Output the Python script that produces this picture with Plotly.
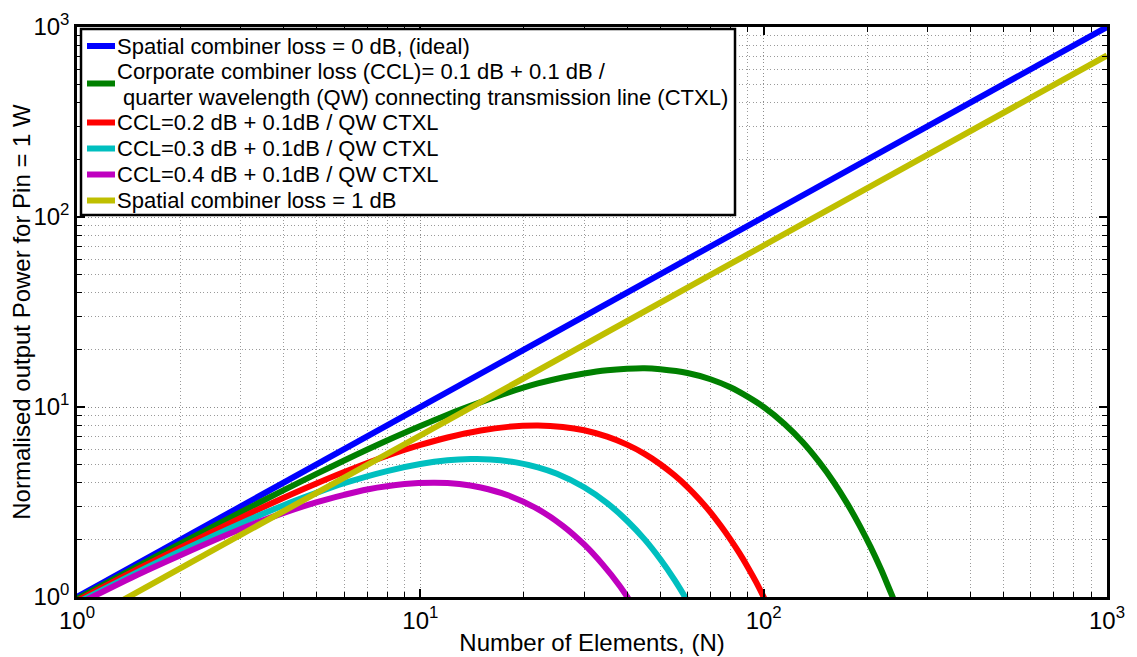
import plotly.graph_objects as go

# ---- data ----
n_ideal = [1, 1000]
p_ideal = [1, 1000]

n_sc1 = [1, 1000]
p_sc1 = [0.708, 708]

n_ccl01 = [1, 1.5, 2, 3, 4, 5, 6, 8, 10, 12, 15, 18, 22, 26, 30, 35, 40, 45, 50, 60, 70, 80, 90,
           100, 115, 130, 145, 160, 175, 190, 205, 220, 230, 240, 250]
p_ccl01 = [0.977, 1.45, 1.91, 2.80, 3.65, 4.46, 5.23, 6.66, 7.94, 9.11, 10.6, 11.9, 13.3, 14.3, 15.0,
           15.6, 15.9, 16.0, 15.8, 15.1, 14.0, 12.7, 11.3, 10.0, 8.14, 6.52, 5.14, 4.02, 3.11, 2.39,
           1.83, 1.39, 1.15, 0.955, 0.79]

n_ccl02 = [1, 1.5, 2, 3, 4, 5, 6, 8, 10, 12, 15, 18, 22, 26, 30, 35, 40, 45, 50, 55, 60, 65, 70,
           75, 80, 85, 90, 95, 100, 105]
p_ccl02 = [0.955, 1.40, 1.82, 2.61, 3.33, 3.97, 4.55, 5.54, 6.31, 6.91, 7.52, 7.86, 7.99, 7.85, 7.54,
           6.98, 6.34, 5.67, 5.0, 4.37, 3.79, 3.26, 2.79, 2.37, 2.01, 1.70, 1.43, 1.20, 1.0, 0.834]

n_ccl03 = [1, 1.5, 2, 3, 4, 5, 6, 8, 10, 12, 14, 16, 19, 22, 25, 30, 35, 40, 45, 50, 55, 60, 62]
p_ccl03 = [0.933, 1.35, 1.74, 2.44, 3.04, 3.54, 3.97, 4.60, 5.01, 5.24, 5.32, 5.30, 5.11, 4.81, 4.45,
           3.78, 3.12, 2.52, 2.01, 1.58, 1.23, 0.951, 0.856]

n_ccl04 = [1, 1.5, 2, 3, 4, 5, 6, 7, 9, 11, 13, 15, 18, 22, 26, 30, 34, 38, 41, 43]
p_ccl04 = [0.912, 1.31, 1.66, 2.28, 2.77, 3.16, 3.45, 3.68, 3.93, 3.99, 3.93, 3.77, 3.43, 2.90, 2.37,
           1.89, 1.48, 1.15, 0.939, 0.819]

names = [
    "Spatial combiner loss = 0 dB, (ideal)",
    "Corporate combiner loss (CCL)= 0.1 dB + 0.1 dB / quarter wavelength (QW) connecting transmission line (CTXL)",
    "CCL=0.2 dB + 0.1dB / QW CTXL",
    "CCL=0.3 dB + 0.1dB / QW CTXL",
    "CCL=0.4 dB + 0.1dB / QW CTXL",
    "Spatial combiner loss = 1 dB",
]
# legend text lines as shown in the reference box
legend_lines = [
    ["Spatial combiner loss = 0 dB, (ideal)"],
    ["Corporate combiner loss (CCL)= 0.1 dB + 0.1 dB /",
     "quarter wavelength (QW) connecting transmission line (CTXL)"],
    ["CCL=0.2 dB + 0.1dB / QW CTXL"],
    ["CCL=0.3 dB + 0.1dB / QW CTXL"],
    ["CCL=0.4 dB + 0.1dB / QW CTXL"],
    ["Spatial combiner loss = 1 dB"],
]
colors = ["#0000FF", "#008000", "#FF0000", "#00BFBF", "#BF00BF", "#BFBF00"]

tick_vals = [1, 10, 100, 1000]
tick_text = ["10<sup>0</sup>", "10<sup>1</sup>", "10<sup>2</sup>", "10<sup>3</sup>"]

series = [
    (n_ideal, p_ideal),
    (n_ccl01, p_ccl01),
    (n_ccl02, p_ccl02),
    (n_ccl03, p_ccl03),
    (n_ccl04, p_ccl04),
    (n_sc1, p_sc1),
]

FONT = "Liberation Sans, Arial, Helvetica"
OFF = 8  # page body margin
W, H = 1137 - OFF, 657 - OFF
ML, MT = 77 - OFF, 27 - OFF
PW, PH = 1030, 570
MR, MB = W - ML - PW, H - MT - PH


def px(xp):  # window pixel -> paper x
    return (xp - OFF - ML) / PW


def py(yp):  # window pixel -> paper y
    return (MT + PH - (yp - OFF)) / PH


fig = go.Figure()
for (xs, ys), name, col in zip(series, names, colors):
    fig.add_trace(go.Scatter(
        x=xs, y=ys, mode="lines", name=name, showlegend=False,
        line=dict(color=col, width=6, shape="spline", smoothing=0.8),
    ))

minor_vals = [m * 10 ** d for d in range(3) for m in range(2, 10)]

axis_common = dict(
    type="log",
    range=[0, 3],
    automargin=False,
    tickvals=tick_vals,
    ticktext=tick_text,
    tickfont=dict(family=FONT, size=24, color="black"),
    ticks="inside",
    ticklen=8,
    tickwidth=1.5,
    tickcolor="black",
    showline=True,
    linecolor="black",
    linewidth=2.5,
    mirror="allticks",
    showgrid=True,
    gridcolor="#8c8c8c",
    griddash="1px,2.5px",
    gridwidth=1,
    zeroline=False,
    minor=dict(
        tickvals=minor_vals,
        ticks="inside",
        ticklen=5,
        tickwidth=1.3,
        tickcolor="black",
        showgrid=True,
        gridcolor="#9a9a9a",
        griddash="1px,2.5px",
        gridwidth=1,
    ),
)

fig.update_xaxes(
    **axis_common,
    title=dict(text="Number of Elements, (N)",
               font=dict(family=FONT, size=24, color="black"),
               standoff=2),
)
fig.update_yaxes(
    **axis_common,
    title=dict(text="Normalised output Power for Pin = 1 W",
               font=dict(family=FONT, size=24, color="black"),
               standoff=2),
)

# ---- legend box drawn like the reference ----
shapes = [dict(type="rect", xref="paper", yref="paper", layer="above",
               x0=px(81), x1=px(735), y0=py(29), y1=py(215),
               line=dict(color="black", width=2.5), fillcolor="white")]
sample_y = [46, 83.5, 122.5, 148.5, 174.5, 200.5]
text_rows = [[46], [71.5, 97], [122.5], [148.5], [174.5], [200.5]]
annotations = []
for lines, rows, sy, col in zip(legend_lines, text_rows, sample_y, colors):
    shapes.append(dict(type="line", xref="paper", yref="paper", layer="above",
                       x0=px(87), x1=px(115), y0=py(sy), y1=py(sy),
                       line=dict(color=col, width=6)))
    for i, (txt, ry) in enumerate(zip(lines, rows)):
        annotations.append(dict(
            xref="paper", yref="paper", x=px(116 if i == 0 else 122), y=py(ry),
            xanchor="left", yanchor="middle", text=txt, showarrow=False,
            font=dict(family=FONT, size=22, color="black"), borderpad=0,
        ))

fig.update_layout(
    width=W, height=H,
    margin=dict(l=ML, r=MR, t=MT, b=MB),
    paper_bgcolor="white",
    plot_bgcolor="white",
    font=dict(family=FONT, color="black"),
    showlegend=False,
    shapes=shapes,
    annotations=annotations,
)

fig.write_html("out.html")
